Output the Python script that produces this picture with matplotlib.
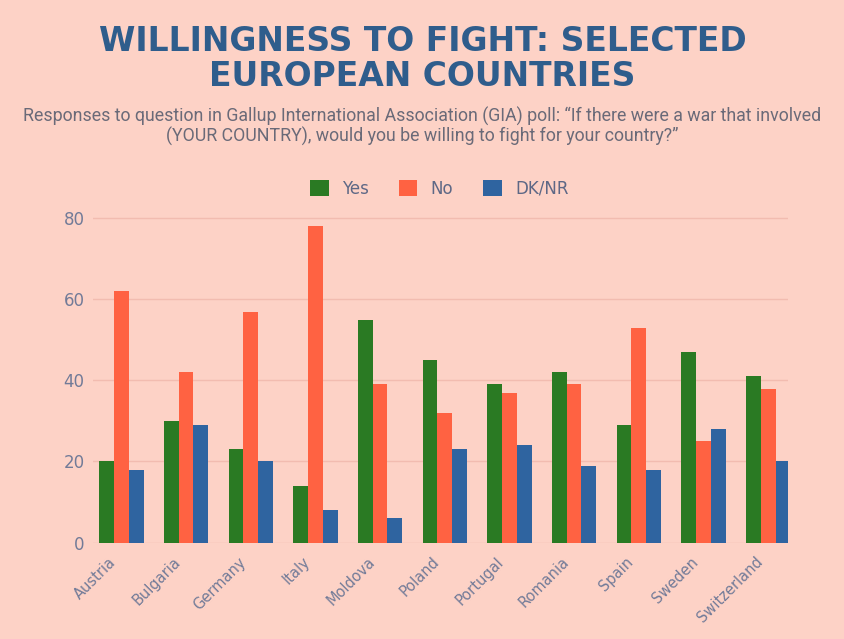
import numpy as np
import matplotlib.pyplot as plt
import matplotlib.transforms as mtransforms

countries = ["Austria", "Bulgaria", "Germany", "Italy", "Moldova", "Poland",
             "Portugal", "Romania", "Spain", "Sweden", "Switzerland"]
yes = [20, 30, 23, 14, 55, 45, 39, 42, 29, 47, 41]
no = [62, 42, 57, 78, 39, 32, 37, 39, 53, 25, 38]
dknr = [18, 29, 20, 8, 6, 23, 24, 19, 18, 28, 20]
series_names = ["Yes", "No", "DK/NR"]
colors = ["#2a7a23", "#ff6242", "#2f64a0"]

bg = "#fdd2c6"
fig = plt.figure(figsize=(8.45, 6.39), dpi=100, facecolor=bg)
ax = fig.add_axes([0.110, 0.151, 0.822, 0.520], facecolor=bg)

x = np.arange(len(countries))
w = 0.228
for i, (vals, name) in enumerate(zip([yes, no, dknr], series_names)):
    ax.bar(x + (i - 1) * w, vals, w, color=colors[i], label=name, zorder=3)

ax.set_xlim(-0.44, 10.3)
ax.set_ylim(0, 82)
ax.set_yticks([0, 20, 40, 60, 80])
ax.grid(axis="y", color="#f2bcb0", linewidth=1, zorder=0)
for s in ax.spines.values():
    s.set_visible(False)
ax.tick_params(axis="both", length=0, labelcolor="#727b98", labelsize=12)
ax.tick_params(axis="y", pad=6)
ax.set_xticks(x)
ax.set_xticklabels(countries, rotation=45, ha="right", rotation_mode="anchor",
                   fontsize=10.5)
# nudge the rotated labels left and down like the original
shift = mtransforms.ScaledTranslation(-0.13, -0.07, fig.dpi_scale_trans)
for lab in ax.get_xticklabels():
    lab.set_transform(lab.get_transform() + shift)

fig.text(0.5, 0.935, "WILLINGNESS TO FIGHT: SELECTED", ha="center", va="center",
         fontsize=23.8, fontweight="bold", color="#2f5d8c", family="DejaVu Sans")
fig.text(0.5, 0.881, "EUROPEAN COUNTRIES", ha="center", va="center",
         fontsize=23.8, fontweight="bold", color="#2f5d8c", family="DejaVu Sans")
fig.text(0.5, 0.818, "Responses to question in Gallup International Association (GIA) poll: "
         "\u201cIf there were a war that involved", ha="center", va="center",
         fontsize=12.8, color="#6a6a78", family="Roboto")
fig.text(0.5, 0.787, "(YOUR COUNTRY), would you be willing to fight for your country?\u201d",
         ha="center", va="center", fontsize=12.8, color="#6a6a78", family="Roboto")

fig.legend(loc="center", bbox_to_anchor=(0.52, 0.705), ncol=3, frameon=False,
           fontsize=12, handlelength=1.1, handleheight=1.1, columnspacing=1.8,
           labelcolor="#5e6886")

fig.savefig("out.png", dpi=100, facecolor=bg)
